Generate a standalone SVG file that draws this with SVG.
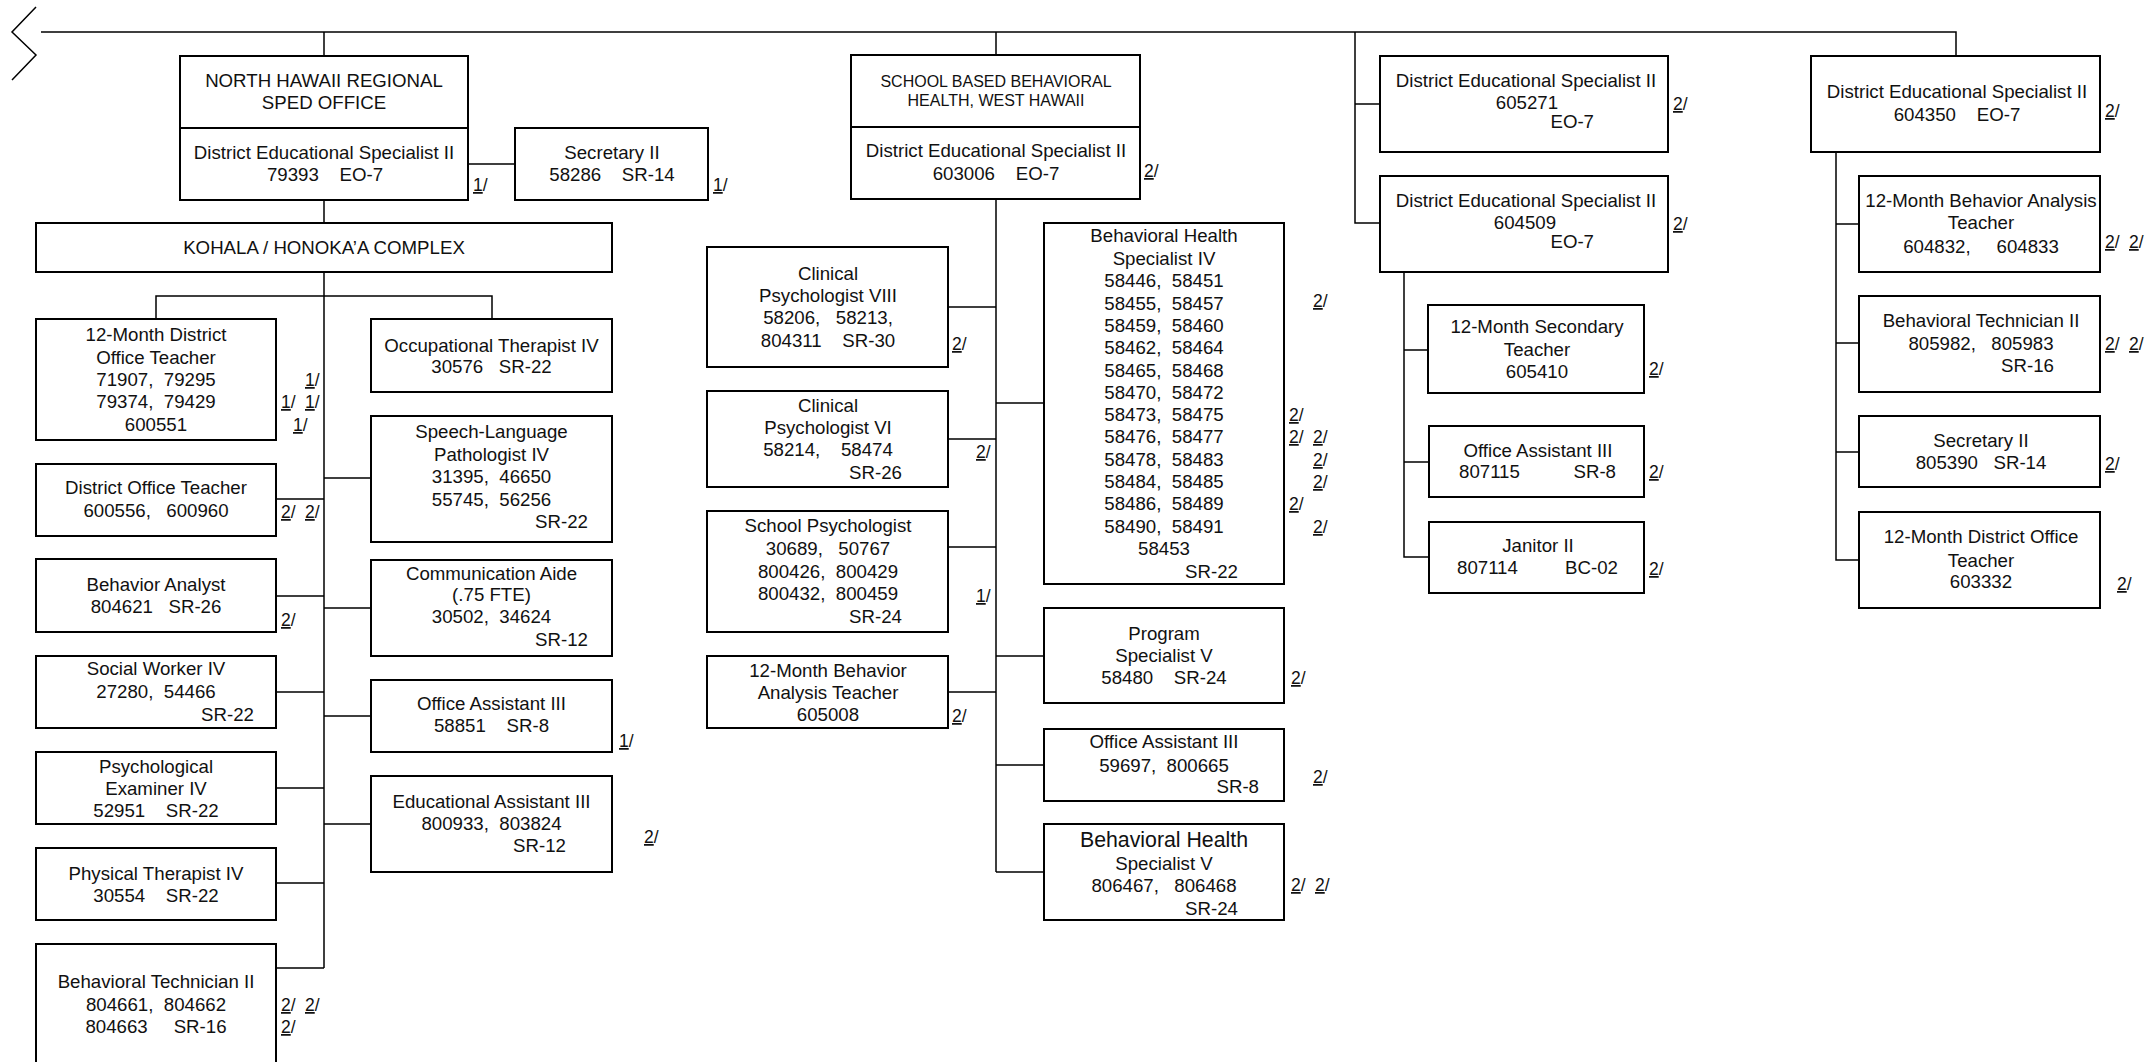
<svg xmlns="http://www.w3.org/2000/svg" width="2151" height="1062" viewBox="0 0 2151 1062">
<style>
.b{fill:#fff;stroke:#000;stroke-width:2}
.c{fill:none;stroke:#000;stroke-width:1.5}
text{font-family:"Liberation Sans",Arial,sans-serif;font-size:18.67px;fill:#111;white-space:pre}
.m{text-anchor:middle}
.e{text-anchor:end}
.s{font-size:16px}
.l{font-size:21.3px}
.fn{font-size:17.5px}
.u{text-decoration:underline}
</style>
<rect width="2151" height="1062" fill="#fff"/>
<g id="connectors" class="c">
<polyline points="36,7 12,32 36,55 12,80"/>
<path d="M41,32 H1956 V56"/>
<path d="M324,32 V56 M324,200 V223 M324,272 V968 M156,319 V296 H492 V319 M468,164 H515"/>
<path d="M276,499 H324 M276,596 H324 M276,692 H324 M276,788 H324 M276,883 H324 M276,968 H324"/>
<path d="M324,478 H371 M324,608 H371 M324,716 H371 M324,824 H371"/>
<path d="M996,32 V55 M996,199 V872"/>
<path d="M948,307 H996 M948,439 H996 M948,547 H996 M948,692 H996"/>
<path d="M996,403 H1044 M996,656 H1044 M996,765 H1044 M996,872 H1044"/>
<path d="M1355,32 V223 H1380 M1355,104 H1380"/>
<path d="M1404,272 V557 H1429 M1404,350 H1428 M1404,462 H1429"/>
<path d="M1836,152 V560 H1859 M1836,224 H1859 M1836,343 H1859 M1836,452 H1859"/>
</g>
<g id="nh-office">
<rect class="b" x="180" y="56" width="288" height="144"/>
<line x1="180" y1="128" x2="468" y2="128" stroke="#000" stroke-width="2"/>
<text class="m" x="324" y="87">NORTH HAWAII REGIONAL</text>
<text class="m" x="324" y="109">SPED OFFICE</text>
<text class="m" x="324" y="159">District Educational Specialist II</text>
<text class="m" x="325" y="181">79393    EO-7</text>
<text class="fn" x="473" y="191"><tspan class="u">1</tspan>/</text>
</g>
<g id="nh-secretary">
<rect class="b" x="515" y="128" width="193" height="72"/>
<text class="m" x="612" y="159">Secretary II</text>
<text class="m" x="612" y="181">58286    SR-14</text>
<text class="fn" x="713" y="191"><tspan class="u">1</tspan>/</text>
</g>
<g id="kohala">
<rect class="b" x="36" y="223" width="576" height="49"/>
<text class="m" x="324" y="254">KOHALA / HONOKA’A COMPLEX</text>
</g>
<g id="dot12">
<rect class="b" x="36" y="319" width="240" height="121"/>
<text class="m" x="156" y="341">12-Month District</text>
<text class="m" x="156" y="364">Office Teacher</text>
<text class="m" x="156" y="386">71907,  79295</text>
<text class="m" x="156" y="408">79374,  79429</text>
<text class="m" x="156" y="431">600551</text>
<text class="fn" x="305" y="386"><tspan class="u">1</tspan>/</text>
<text class="fn" x="281" y="408"><tspan class="u">1</tspan>/<tspan x="305" class="u">1</tspan>/</text>
<text class="fn" x="293" y="431"><tspan class="u">1</tspan>/</text>
</g>
<g id="dot">
<rect class="b" x="36" y="464" width="240" height="72"/>
<text class="m" x="156" y="494">District Office Teacher</text>
<text class="m" x="156" y="517">600556,   600960</text>
<text class="fn" x="281" y="518"><tspan class="u">2</tspan>/<tspan x="305" class="u">2</tspan>/</text>
</g>
<g id="behavior-analyst">
<rect class="b" x="36" y="559" width="240" height="73"/>
<text class="m" x="156" y="591">Behavior Analyst</text>
<text class="m" x="156" y="613">804621   SR-26</text>
<text class="fn" x="281" y="626"><tspan class="u">2</tspan>/</text>
</g>
<g id="social-worker">
<rect class="b" x="36" y="656" width="240" height="72"/>
<text class="m" x="156" y="675">Social Worker IV</text>
<text class="m" x="156" y="698">27280,  54466</text>
<text class="e" x="254" y="721">SR-22</text>
</g>
<g id="psych-examiner">
<rect class="b" x="36" y="752" width="240" height="72"/>
<text class="m" x="156" y="773">Psychological</text>
<text class="m" x="156" y="795">Examiner IV</text>
<text class="m" x="156" y="817">52951    SR-22</text>
</g>
<g id="physical-therapist">
<rect class="b" x="36" y="848" width="240" height="72"/>
<text class="m" x="156" y="880">Physical Therapist IV</text>
<text class="m" x="156" y="902">30554    SR-22</text>
</g>
<g id="behavioral-tech-nh">
<rect class="b" x="36" y="944" width="240" height="130"/>
<text class="m" x="156" y="988">Behavioral Technician II</text>
<text class="m" x="156" y="1011">804661,  804662</text>
<text class="m" x="156" y="1033">804663     SR-16</text>
<text class="fn" x="281" y="1011"><tspan class="u">2</tspan>/<tspan x="305" class="u">2</tspan>/</text>
<text class="fn" x="281" y="1033"><tspan class="u">2</tspan>/</text>
</g>
<g id="occupational-therapist">
<rect class="b" x="371" y="319" width="241" height="73"/>
<text class="m" x="491.5" y="352">Occupational Therapist IV</text>
<text class="m" x="491.5" y="373">30576   SR-22</text>
</g>
<g id="speech">
<rect class="b" x="371" y="416" width="241" height="126"/>
<text class="m" x="491.5" y="438">Speech-Language</text>
<text class="m" x="491.5" y="461">Pathologist IV</text>
<text class="m" x="491.5" y="483">31395,  46650</text>
<text class="m" x="491.5" y="506">55745,  56256</text>
<text class="e" x="588" y="528">SR-22</text>
</g>
<g id="comm-aide">
<rect class="b" x="371" y="560" width="241" height="96"/>
<text class="m" x="491.5" y="580">Communication Aide</text>
<text class="m" x="491.5" y="601">(.75 FTE)</text>
<text class="m" x="491.5" y="623">30502,  34624</text>
<text class="e" x="588" y="646">SR-12</text>
</g>
<g id="oa3-nh">
<rect class="b" x="371" y="680" width="241" height="72"/>
<text class="m" x="491.5" y="710">Office Assistant III</text>
<text class="m" x="491.5" y="732">58851    SR-8</text>
<text class="fn" x="619" y="747"><tspan class="u">1</tspan>/</text>
</g>
<g id="ea3">
<rect class="b" x="371" y="776" width="241" height="96"/>
<text class="m" x="491.5" y="808">Educational Assistant III</text>
<text class="m" x="491.5" y="830">800933,  803824</text>
<text class="e" x="566" y="852">SR-12</text>
<text class="fn" x="644" y="843"><tspan class="u">2</tspan>/</text>
</g>
<g id="sbbh">
<rect class="b" x="851" y="55" width="289" height="144"/>
<line x1="851" y1="127" x2="1140" y2="127" stroke="#000" stroke-width="2"/>
<text class="m s" x="996" y="87">SCHOOL BASED BEHAVIORAL</text>
<text class="m s" x="996" y="106">HEALTH, WEST HAWAII</text>
<text class="m" x="996" y="157">District Educational Specialist II</text>
<text class="m" x="996" y="180">603006    EO-7</text>
<text class="fn" x="1144" y="177"><tspan class="u">2</tspan>/</text>
</g>
<g id="cp8">
<rect class="b" x="707" y="247" width="241" height="120"/>
<text class="m" x="828" y="280">Clinical</text>
<text class="m" x="828" y="302">Psychologist VIII</text>
<text class="m" x="828" y="324">58206,   58213,</text>
<text class="m" x="828" y="347">804311    SR-30</text>
<text class="fn" x="952" y="350"><tspan class="u">2</tspan>/</text>
</g>
<g id="cp6">
<rect class="b" x="707" y="391" width="241" height="96"/>
<text class="m" x="828" y="412">Clinical</text>
<text class="m" x="828" y="434">Psychologist VI</text>
<text class="m" x="828" y="456">58214,    58474</text>
<text class="e" x="902" y="479">SR-26</text>
<text class="fn" x="976" y="458"><tspan class="u">2</tspan>/</text>
</g>
<g id="school-psych">
<rect class="b" x="707" y="511" width="241" height="121"/>
<text class="m" x="828" y="532">School Psychologist</text>
<text class="m" x="828" y="555">30689,   50767</text>
<text class="m" x="828" y="578">800426,  800429</text>
<text class="m" x="828" y="600">800432,  800459</text>
<text class="e" x="902" y="623">SR-24</text>
<text class="fn" x="976" y="602"><tspan class="u">1</tspan>/</text>
</g>
<g id="bat-wh">
<rect class="b" x="707" y="656" width="241" height="72"/>
<text class="m" x="828" y="677">12-Month Behavior</text>
<text class="m" x="828" y="699">Analysis Teacher</text>
<text class="m" x="828" y="721">605008</text>
<text class="fn" x="952" y="722"><tspan class="u">2</tspan>/</text>
</g>
<g id="bhs4">
<rect class="b" x="1044" y="223" width="240" height="361"/>
<text class="m" x="1164" y="242">Behavioral Health</text>
<text class="m" x="1164" y="265">Specialist IV</text>
<text class="m" x="1164" y="287">58446,  58451</text>
<text class="m" x="1164" y="310">58455,  58457</text>
<text class="m" x="1164" y="332">58459,  58460</text>
<text class="m" x="1164" y="354">58462,  58464</text>
<text class="m" x="1164" y="377">58465,  58468</text>
<text class="m" x="1164" y="399">58470,  58472</text>
<text class="m" x="1164" y="421">58473,  58475</text>
<text class="m" x="1164" y="443">58476,  58477</text>
<text class="m" x="1164" y="466">58478,  58483</text>
<text class="m" x="1164" y="488">58484,  58485</text>
<text class="m" x="1164" y="510">58486,  58489</text>
<text class="m" x="1164" y="533">58490,  58491</text>
<text class="m" x="1164" y="555">58453</text>
<text class="e" x="1238" y="578">SR-22</text>
<text class="fn" x="1313" y="307"><tspan class="u">2</tspan>/</text>
<text class="fn" x="1289" y="421"><tspan class="u">2</tspan>/</text>
<text class="fn" x="1289" y="443"><tspan class="u">2</tspan>/<tspan x="1313" class="u">2</tspan>/</text>
<text class="fn" x="1313" y="466"><tspan class="u">2</tspan>/</text>
<text class="fn" x="1313" y="488"><tspan class="u">2</tspan>/</text>
<text class="fn" x="1289" y="510"><tspan class="u">2</tspan>/</text>
<text class="fn" x="1313" y="533"><tspan class="u">2</tspan>/</text>
</g>
<g id="program-spec">
<rect class="b" x="1044" y="608" width="240" height="95"/>
<text class="m" x="1164" y="640">Program</text>
<text class="m" x="1164" y="662">Specialist V</text>
<text class="m" x="1164" y="684">58480    SR-24</text>
<text class="fn" x="1291" y="684"><tspan class="u">2</tspan>/</text>
</g>
<g id="oa3-wh">
<rect class="b" x="1044" y="729" width="240" height="72"/>
<text class="m" x="1164" y="748">Office Assistant III</text>
<text class="m" x="1164" y="772">59697,  800665</text>
<text class="e" x="1259" y="793">SR-8</text>
<text class="fn" x="1313" y="783"><tspan class="u">2</tspan>/</text>
</g>
<g id="bhs5">
<rect class="b" x="1044" y="824" width="240" height="96"/>
<text class="m l" x="1164" y="847">Behavioral Health</text>
<text class="m" x="1164" y="870">Specialist V</text>
<text class="m" x="1164" y="892">806467,   806468</text>
<text class="e" x="1238" y="915">SR-24</text>
<text class="fn" x="1291" y="891"><tspan class="u">2</tspan>/<tspan x="1315" class="u">2</tspan>/</text>
</g>
<g id="des-605271">
<rect class="b" x="1380" y="56" width="288" height="96"/>
<text class="m" x="1526" y="87">District Educational Specialist II</text>
<text class="m" x="1527" y="109">605271</text>
<text class="e" x="1594" y="128">EO-7</text>
<text class="fn" x="1673" y="110"><tspan class="u">2</tspan>/</text>
</g>
<g id="des-604509">
<rect class="b" x="1380" y="176" width="288" height="96"/>
<text class="m" x="1526" y="207">District Educational Specialist II</text>
<text class="m" x="1525" y="229">604509</text>
<text class="e" x="1594" y="248">EO-7</text>
<text class="fn" x="1673" y="230"><tspan class="u">2</tspan>/</text>
</g>
<g id="secondary-teacher">
<rect class="b" x="1428" y="305" width="216" height="88"/>
<text class="m" x="1537" y="333">12-Month Secondary</text>
<text class="m" x="1537" y="356">Teacher</text>
<text class="m" x="1537" y="378">605410</text>
<text class="fn" x="1649" y="375"><tspan class="u">2</tspan>/</text>
</g>
<g id="oa3-des">
<rect class="b" x="1429" y="426" width="215" height="71"/>
<text class="m" x="1538" y="457">Office Assistant III</text>
<text x="1459" y="478">807115</text>
<text class="e" x="1616" y="478">SR-8</text>
<text class="fn" x="1649" y="478"><tspan class="u">2</tspan>/</text>
</g>
<g id="janitor">
<rect class="b" x="1429" y="522" width="215" height="71"/>
<text class="m" x="1538" y="552">Janitor II</text>
<text x="1457" y="574">807114</text>
<text class="e" x="1618" y="574">BC-02</text>
<text class="fn" x="1649" y="575"><tspan class="u">2</tspan>/</text>
</g>
<g id="des-604350">
<rect class="b" x="1811" y="56" width="289" height="96"/>
<text class="m" x="1957" y="98">District Educational Specialist II</text>
<text class="m" x="1957" y="121">604350    EO-7</text>
<text class="fn" x="2105" y="117"><tspan class="u">2</tspan>/</text>
</g>
<g id="bat-des">
<rect class="b" x="1859" y="176" width="241" height="96"/>
<text class="m" x="1981" y="207">12-Month Behavior Analysis</text>
<text class="m" x="1981" y="229">Teacher</text>
<text class="m" x="1981" y="253">604832,     604833</text>
<text class="fn" x="2105" y="248"><tspan class="u">2</tspan>/<tspan x="2129" class="u">2</tspan>/</text>
</g>
<g id="bt2-des">
<rect class="b" x="1859" y="296" width="241" height="96"/>
<text class="m" x="1981" y="327">Behavioral Technician II</text>
<text class="m" x="1981" y="350">805982,   805983</text>
<text class="e" x="2054" y="372">SR-16</text>
<text class="fn" x="2105" y="350"><tspan class="u">2</tspan>/<tspan x="2129" class="u">2</tspan>/</text>
</g>
<g id="secretary-des">
<rect class="b" x="1859" y="416" width="241" height="71"/>
<text class="m" x="1981" y="447">Secretary II</text>
<text class="m" x="1981" y="469">805390   SR-14</text>
<text class="fn" x="2105" y="470"><tspan class="u">2</tspan>/</text>
</g>
<g id="dot12-des">
<rect class="b" x="1859" y="512" width="241" height="96"/>
<text class="m" x="1981" y="543">12-Month District Office</text>
<text class="m" x="1981" y="567">Teacher</text>
<text class="m" x="1981" y="588">603332</text>
<text class="fn" x="2117" y="590"><tspan class="u">2</tspan>/</text>
</g>
</svg>
